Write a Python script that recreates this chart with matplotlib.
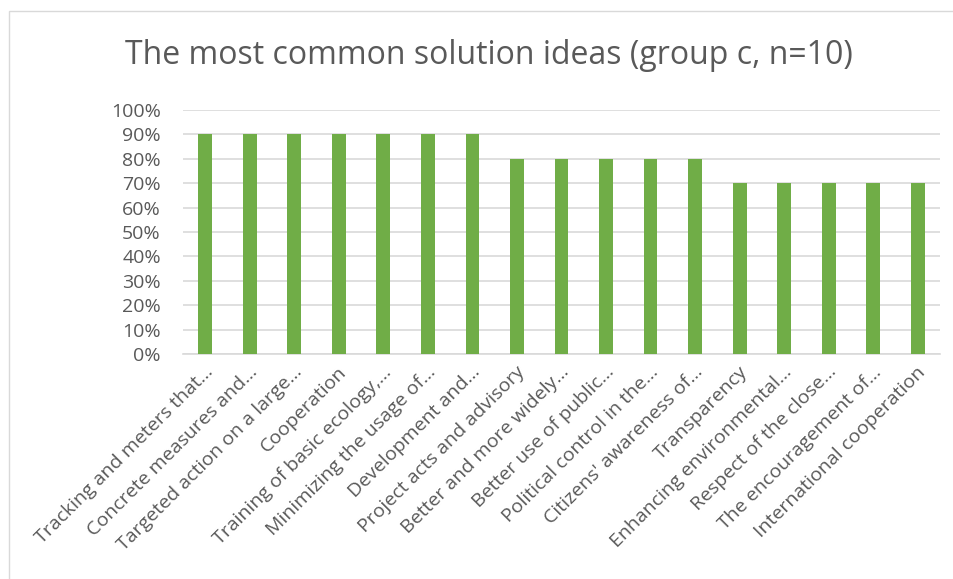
import matplotlib.pyplot as plt
from matplotlib.patches import Rectangle
from matplotlib.transforms import ScaledTranslation

labels = [
    "Tracking and meters that…",
    "Concrete measures and…",
    "Targeted action on a large…",
    "Cooperation",
    "Training of basic ecology,…",
    "Minimizing the usage of…",
    "Development and…",
    "Project acts and advisory",
    "Better and more widely…",
    "Better use of public…",
    "Political control in the…",
    "Citizens' awareness of…",
    "Transparency",
    "Enhancing environmental…",
    "Respect of the close…",
    "The encouragement of…",
    "International cooperation",
]
shares = [90, 90, 90, 90, 90, 90, 90, 80, 80, 80, 80, 80, 70, 70, 70, 70, 70]

TEXT = "#595959"
GRID = "#D9D9D9"
GREEN = "#70AD47"

plt.rcParams["font.family"] = ["Open Sans", "DejaVu Sans"]

fig = plt.figure(figsize=(9.54, 5.79), dpi=100)
ax = fig.add_axes([183 / 954, 1 - 354 / 579, (940 - 183) / 954, (354 - 110) / 579])

x = range(len(labels))
ax.bar(x, shares, width=0.31, color=GREEN, zorder=3)

ax.set_xlim(-0.5, len(labels) - 0.5)
ax.set_ylim(0, 100)
ax.set_yticks(range(0, 101, 10))
ax.set_yticklabels([f"{v}%" for v in range(0, 101, 10)])
ax.yaxis.grid(True, color=GRID, lw=1.2, zorder=0)
ax.set_xticks(list(x))
ax.set_xticklabels(labels, rotation=45, ha="right", va="center",
                   rotation_mode="anchor")
ax.tick_params(axis="both", length=0, colors=TEXT)
ax.tick_params(axis="y", pad=16, labelsize=14)
ax.tick_params(axis="x", pad=11, labelsize=14)
# nudge the slanted category labels a little to the right
shift = ScaledTranslation(5 / 100, 0, fig.dpi_scale_trans)
for lbl in ax.get_xticklabels():
    lbl.set_transform(lbl.get_transform() + shift)
for side in ("top", "right", "left"):
    ax.spines[side].set_visible(False)
ax.spines["bottom"].set_color(GRID)
ax.spines["bottom"].set_linewidth(1.2)

fig.text(489 / 954, 1 - 55 / 579, "The most common solution ideas (group c, n=10)",
         ha="center", va="center", fontsize=23, color=TEXT)

fig.patches.append(Rectangle((9 / 954, -0.1), 1.2, 1.1 - 11 / 579,
                             transform=fig.transFigure, fill=False,
                             edgecolor=GRID, lw=1))

fig.savefig("out.png", dpi=100)
